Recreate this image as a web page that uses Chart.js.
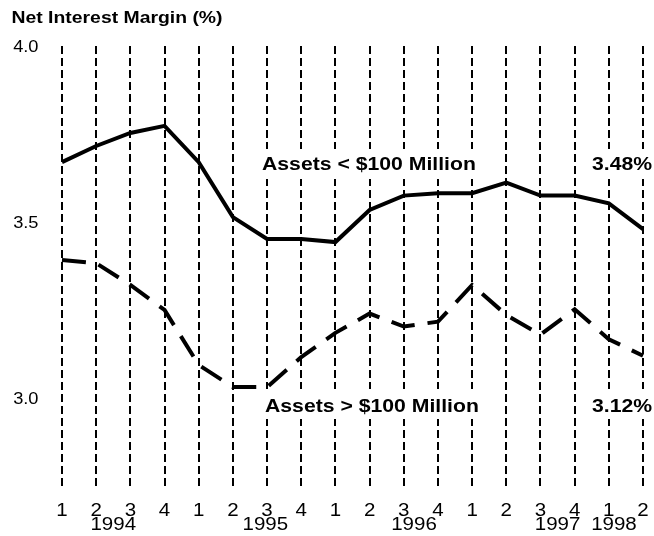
<!DOCTYPE html>
<html>
<head>
<meta charset="utf-8">
<script src="https://cdn.jsdelivr.net/npm/chart.js@4/dist/chart.umd.min.js"></script>
<style>
  html, body { margin: 0; padding: 0; background: #fff; }
  #wrap { width: 654px; height: 536px; }
</style>
</head>
<body>
<div id="wrap"><canvas id="nimChart" width="654" height="536"></canvas></div>
<script>
// quarters 1994 Q1 .. 1998 Q2
const quarterLabels = ['1', '2', '3', '4', '1', '2', '3', '4', '1', '2', '3', '4', '1', '2', '3', '4', '1', '2'];
const yearLabels = ['1994', '1995', '1996', '1997', '1998'];
const yearAtIndex = [1.5, 5.95, 10.3, 14.5, 16.15];   // where each year sits along the quarter axis
const yTickValues = [3.0, 3.5, 4.0];

// net interest margin, %
const smallBanks = [3.67, 3.716, 3.753, 3.773, 3.67, 3.514, 3.452, 3.452, 3.443, 3.534, 3.575, 3.582, 3.582, 3.612, 3.575, 3.575, 3.553, 3.48];
const largeBanks = [3.392, 3.383, 3.321, 3.25, 3.094, 3.031, 3.031, 3.116, 3.185, 3.24, 3.203, 3.217, 3.321, 3.236, 3.18, 3.252, 3.167, 3.12];

const FONT = 'Arial, "Liberation Sans", sans-serif';
const STRETCH = 1.14;  // the original text is a bit wider than Arial

function drawText(ctx, text, x, y, font, align) {
    ctx.save();
    ctx.translate(x, y);
    ctx.scale(STRETCH, 1);
    ctx.font = font;
    ctx.textAlign = align;
    ctx.textBaseline = 'alphabetic';
    ctx.fillStyle = '#000';
    ctx.fillText(text, 0, 0);
    ctx.restore();
}

// labels, annotations and the axis text
const textPlugin = {
    id: 'nimText',
    afterDatasetsDraw(chart) {
        const ctx = chart.ctx;
        const xs = chart.scales.x;
        const ys = chart.scales.y;
        const step = xs.getPixelForValue(1) - xs.getPixelForValue(0);

        // white boxes behind the series captions cut the grid lines
        ctx.save();
        ctx.fillStyle = '#fff';
        ctx.fillRect(256, 149, 228, 30);
        ctx.fillRect(586, 149, 68, 30);
        ctx.fillRect(259, 389, 225, 30);
        ctx.fillRect(586, 389, 68, 30);
        ctx.restore();

        drawText(ctx, 'Net Interest Margin (%)', 11.5, 22.5, 'bold 17px ' + FONT, 'left');

        yTickValues.forEach(v => {
            drawText(ctx, v.toFixed(1), 38.5, ys.getPixelForValue(v) + 5.5, '16px ' + FONT, 'right');
        });

        quarterLabels.forEach((q, i) => {
            drawText(ctx, q, xs.getPixelForValue(i), 516, '18px ' + FONT, 'center');
        });
        yearLabels.forEach((yr, i) => {
            const px = xs.getPixelForValue(0) + yearAtIndex[i] * step;
            drawText(ctx, yr, px, 529.5, '18px ' + FONT, 'center');
        });

        const bold = 'bold 18.6px ' + FONT;
        drawText(ctx, 'Assets < $100 Million', 262, 169.5, bold, 'left');
        drawText(ctx, smallBanks[smallBanks.length - 1].toFixed(2) + '%', 592, 169.5, bold, 'left');
        drawText(ctx, 'Assets > $100 Million', 265, 411.5, bold, 'left');
        drawText(ctx, largeBanks[largeBanks.length - 1].toFixed(2) + '%', 592, 411.5, bold, 'left');
    }
};

const ctx = document.getElementById('nimChart').getContext('2d');
new Chart(ctx, {
    type: 'line',
    data: {
        labels: quarterLabels,
        datasets: [
            {
                label: 'Assets < $100 Million',
                data: smallBanks,
                borderColor: '#000',
                borderWidth: 4,
                pointRadius: 0,
                tension: 0,
                fill: false
            },
            {
                label: 'Assets > $100 Million',
                data: largeBanks,
                borderColor: '#000',
                borderWidth: 4,
                borderDash: [24, 13],
                pointRadius: 0,
                tension: 0,
                fill: false
            }
        ]
    },
    options: {
        responsive: false,
        animation: false,
        devicePixelRatio: 1,
        layout: { padding: { top: 46, left: 62, right: 11, bottom: 50 } },
        plugins: {
            legend: { display: false },
            tooltip: { enabled: false },
            title: { display: false }
        },
        scales: {
            x: {
                ticks: { display: false },
                grid: { display: true, color: '#000', lineWidth: 2, drawTicks: false },
                border: { display: false, dash: [8, 4] }
            },
            y: {
                display: false,
                min: 2.75,
                max: 4.0
            }
        }
    },
    plugins: [textPlugin]
});
</script>
</body>
</html>
